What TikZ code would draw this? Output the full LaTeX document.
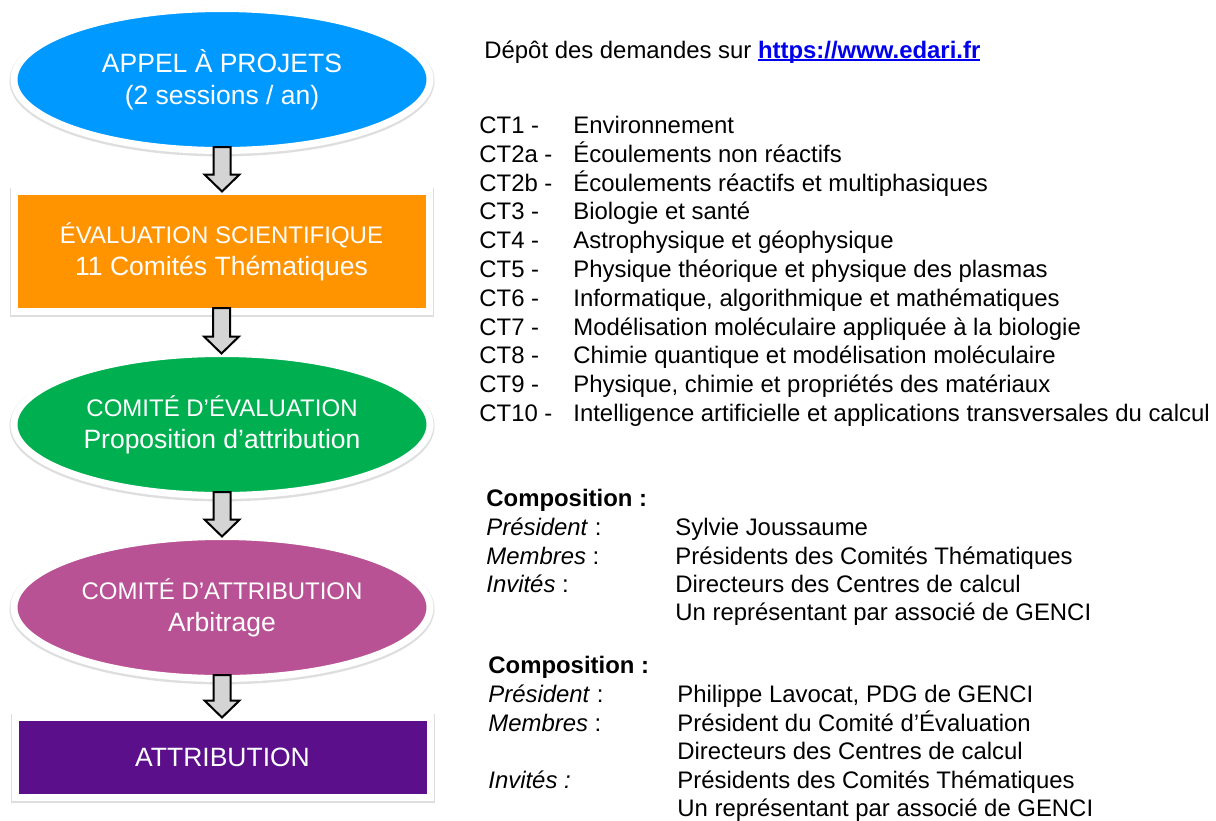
\documentclass[tikz,border=0pt]{standalone}
\usepackage{fontspec}
\setmainfont{Liberation Sans}
\usepackage{tikz}
\usetikzlibrary{arrows.meta, calc, positioning, shapes.geometric}

\definecolor{appelblue}{RGB}{0,153,255}
\definecolor{evalorange}{RGB}{255,147,0}
\definecolor{comitegreen}{RGB}{0,176,80}
\definecolor{attribpink}{RGB}{184,82,148}
\definecolor{finalpurple}{RGB}{91,15,139}
\definecolor{linkblue}{RGB}{0,0,238}

\newcommand{\capsize}{\fontsize{12pt}{16pt}\selectfont}
\newcommand{\bigsize}{\fontsize{13.25pt}{16pt}\selectfont}
\newcommand{\listsize}{\fontsize{11.95pt}{14pt}\selectfont}

% underline drawn close under the baseline, as for a web link
\newlength{\linkwidth}
\newcommand{\linktext}[1]{\settowidth{\linkwidth}{#1}\rlap{\rule[-1.7pt]{\linkwidth}{1pt}}#1}

\tikzset{
    stage/.style={draw=white, line width=3.5pt, text=white, inner sep=0pt, outer sep=0pt,
        align=center, font=\bigsize,
        preaction={draw=black!13, line width=4.5pt, transform canvas={yshift=-0.7pt}}},
    oval/.style={stage, ellipse, minimum width=208pt, minimum height=71pt},
    box/.style={stage, rectangle, minimum width=207.5pt},
    blockarrow/.style={draw=black, fill=black!17, line width=1pt, line join=miter},
    listtext/.style={anchor=base west, inner sep=0pt, font=\listsize}
}

% block arrow from the bottom of one stage to the top of the next
\newcommand{\flowarrow}[2]{%
    \draw[blockarrow] let \p1=(#1.south), \p2=(#2.north) in
        (\x1-4.25pt,\y1+1.75pt) -- (\x1+4.25pt,\y1+1.75pt) -- (\x1+4.25pt,\y2+8.5pt)
        -- (\x1+8.75pt,\y2+8.5pt) -- (\x1,\y2) -- (\x1-8.75pt,\y2+8.5pt)
        -- (\x1-4.25pt,\y2+8.5pt) -- cycle;}

\begin{document}
\begin{tikzpicture}[x=0.5pt, y=-0.5pt]
    \useasboundingbox (0,0) rectangle (1216,820);

    % The five stages
    \node[oval, fill=appelblue] (appel) at (222,79.5) {APPEL À PROJETS\\(2 sessions / an)};
    \node[box, fill=evalorange, minimum height=60pt] (evaluation) at (221.5,251.5)
        {{\capsize ÉVALUATION SCIENTIFIQUE}\\11 Comités Thématiques};
    \node[oval, fill=comitegreen] (comiteeval) at (222,424.5)
        {{\capsize COMITÉ D’ÉVALUATION}\\Proposition d’attribution};
    \node[oval, fill=attribpink] (comiteattrib) at (222,607.5)
        {{\capsize COMITÉ D’ATTRIBUTION}\\Arbitrage};
    \node[box, fill=finalpurple, minimum height=40pt] (attribution) at (222.5,757.5) {ATTRIBUTION};

    % Arrows between the stages
    \flowarrow{appel}{evaluation}
    \flowarrow{evaluation}{comiteeval}
    \flowarrow{comiteeval}{comiteattrib}
    \flowarrow{comiteattrib}{attribution}

    % Submission site
    \node[listtext] (depot) at (484,58) {Dépôt des demandes sur
        \textcolor{linkblue}{\textbf{\linktext{https://www.edari.fr}}}};

    % Thematic committees
    \foreach \ct/\domain [count=\i from 0] in {
        CT1 -/Environnement,
        CT2a -/Écoulements non réactifs,
        CT2b -/Écoulements réactifs et multiphasiques,
        CT3 -/Biologie et santé,
        CT4 -/Astrophysique et géophysique,
        CT5 -/Physique théorique et physique des plasmas,
        CT6 -/{Informatique, algorithmique et mathématiques},
        CT7 -/Modélisation moléculaire appliquée à la biologie,
        CT8 -/Chimie quantique et modélisation moléculaire,
        CT9 -/{Physique, chimie et propriétés des matériaux},
        CT10 -/Intelligence artificielle et applications transversales du calcul}
    {
        \node[listtext] (ct\i) at (479,{133.5+28.8*\i}) {\ct};
        \node[listtext] (domain\i) at (573,{133.5+28.8*\i}) {\domain};
    }

    % Composition of the evaluation committee
    \node[listtext] (compeval) at (486,506.5) {\textbf{Composition :}};
    \node[listtext] (evalpres) at (486,535.5) {\textit{Président} :};
    \node[listtext] (evalmemb) at (486,564.5) {\textit{Membres} :};
    \node[listtext] (evalinv) at (486,592.5) {\textit{Invités} :};
    \node[listtext] (evalpresname) at (675,535.5) {Sylvie Joussaume};
    \node[listtext] (evalmembname) at (675,564.5) {Présidents des Comités Thématiques};
    \node[listtext] (evalinvname) at (675,592.5) {Directeurs des Centres de calcul};
    \node[listtext] (evalinvname2) at (675,620.5) {Un représentant par associé de GENCI};

    % Composition of the attribution committee
    \node[listtext] (compattrib) at (488,673.5) {\textbf{Composition :}};
    \node[listtext] (attribpres) at (488,702.5) {\textit{Président} :};
    \node[listtext] (attribmemb) at (488,731.5) {\textit{Membres} :};
    \node[listtext] (attribinv) at (488,788.5) {\textit{Invités :}};
    \node[listtext] (attribpresname) at (677,702.5) {Philippe Lavocat, PDG de GENCI};
    \node[listtext] (attribmembname) at (677,731.5) {Président du Comité d’Évaluation};
    \node[listtext] (attribmembname2) at (677,759.5) {Directeurs des Centres de calcul};
    \node[listtext] (attribinvname) at (677,788.5) {Présidents des Comités Thématiques};
    \node[listtext] (attribinvname2) at (677,816.5) {Un représentant par associé de GENCI};
\end{tikzpicture}
\end{document}
